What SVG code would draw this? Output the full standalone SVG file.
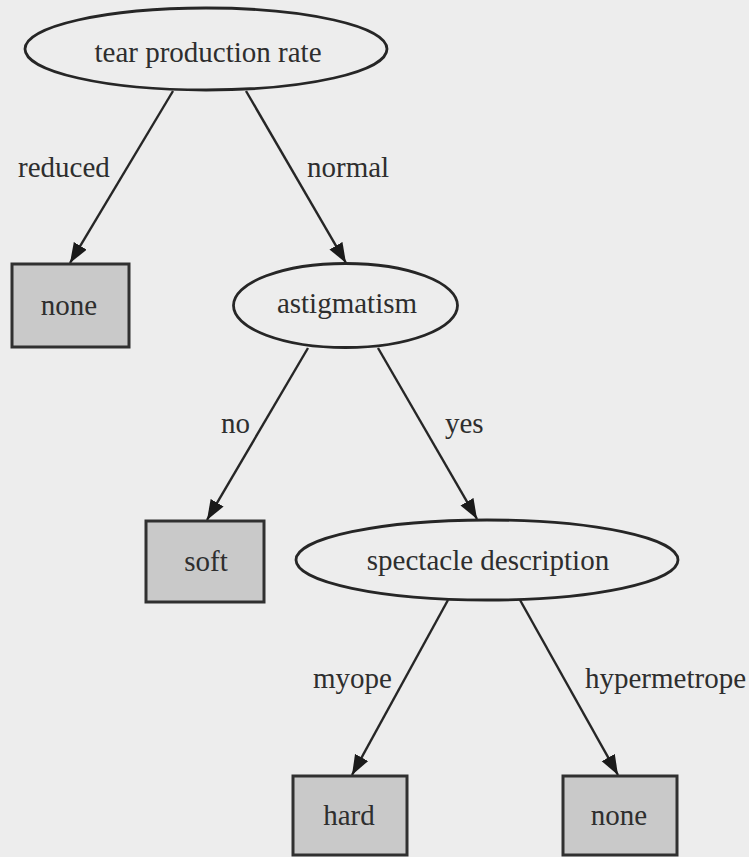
<svg xmlns="http://www.w3.org/2000/svg" width="749" height="857" viewBox="0 0 749 857">
  <style>
    text { font-family: "Liberation Serif", "Times New Roman", serif; font-size: 29px; fill: #2e2e2e; }
    .decision ellipse { fill: none; stroke: #262626; stroke-width: 2.8; }
    .leaf rect { fill: #c9c9c9; stroke: #303030; stroke-width: 3; }
    .node-label { text-anchor: middle; }
    #edges line { stroke: #262626; stroke-width: 2.4; marker-end: url(#arrow); }
  </style>
  <defs>
    <marker id="arrow" markerUnits="userSpaceOnUse" markerWidth="22" markerHeight="16" refX="20" refY="7.5" orient="auto">
      <path d="M0,0 L20,7.5 L0,15 Z" fill="#1a1a1a"/>
    </marker>
  </defs>

  <rect x="0" y="0" width="749" height="857" fill="#ededed"/>

  <!-- connectors -->
  <g id="edges">
    <line x1="173" y1="91" x2="70" y2="263"/>
    <line x1="246" y1="91" x2="346" y2="263"/>
    <line x1="308" y1="348" x2="207" y2="520"/>
    <line x1="378" y1="348" x2="477" y2="519"/>
    <line x1="448" y1="600" x2="352" y2="775"/>
    <line x1="520" y1="600" x2="618" y2="775"/>
    <g id="edge-labels">
      <text x="18" y="177">reduced</text>
      <text x="307" y="177">normal</text>
      <text x="221" y="433">no</text>
      <text x="445" y="433">yes</text>
      <text x="313" y="688">myope</text>
      <text x="585" y="688">hypermetrope</text>
    </g>
  </g>

  <!-- decision nodes -->
  <g id="tear-production-rate" class="decision">
    <ellipse cx="206" cy="49" rx="181" ry="41"/>
    <text class="node-label" x="208" y="62">tear production rate</text>
  </g>
  <g id="astigmatism" class="decision">
    <ellipse cx="345.5" cy="305.5" rx="112" ry="42"/>
    <text class="node-label" x="347" y="313">astigmatism</text>
  </g>
  <g id="spectacle-description" class="decision">
    <ellipse cx="487" cy="560" rx="191" ry="40"/>
    <text class="node-label" x="488" y="570">spectacle description</text>
  </g>

  <!-- leaf nodes -->
  <g id="leaf-none-1" class="leaf">
    <rect x="12" y="264" width="117" height="83"/>
    <text class="node-label" x="69" y="315">none</text>
  </g>
  <g id="leaf-soft" class="leaf">
    <rect x="146" y="521" width="118" height="81"/>
    <text class="node-label" x="206" y="571">soft</text>
  </g>
  <g id="leaf-hard" class="leaf">
    <rect x="293" y="776" width="114" height="79"/>
    <text class="node-label" x="349" y="825">hard</text>
  </g>
  <g id="leaf-none-2" class="leaf">
    <rect x="563" y="776" width="114" height="79"/>
    <text class="node-label" x="619" y="825">none</text>
  </g>
</svg>
